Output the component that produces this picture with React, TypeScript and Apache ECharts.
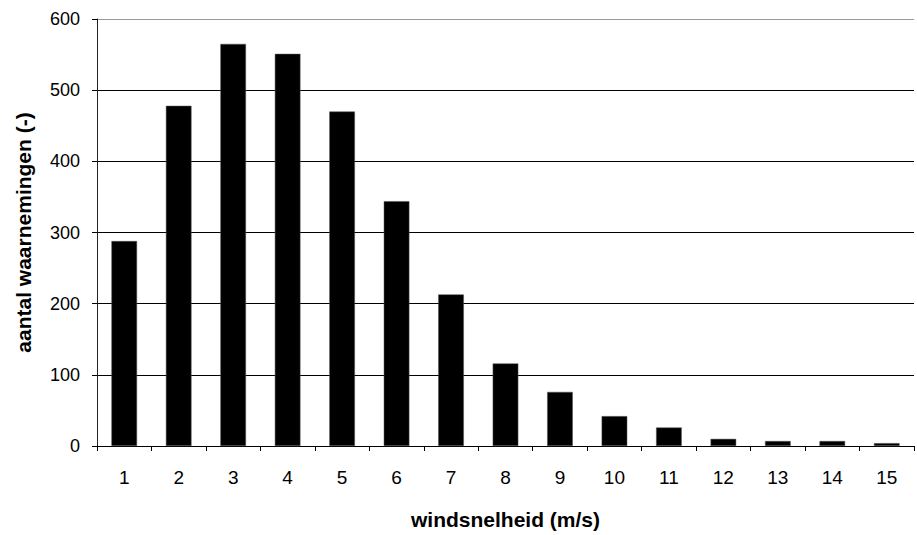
import React, { useEffect, useRef } from "react";
import * as echarts from "echarts";

const categories = ["1", "2", "3", "4", "5", "6", "7", "8", "9", "10", "11", "12", "13", "14", "15"];
const counts = [288, 478, 565, 551, 470, 344, 213, 116, 76, 42, 26, 10, 7, 7, 4];
const yTitle = "aantal waarnemingen (-)";
const xTitle = "windsnelheid (m/s)";

export default function App() {
  const ref = useRef<HTMLDivElement>(null);
  useEffect(() => {
    if (!ref.current) return;
    const chart = echarts.init(ref.current, undefined, { renderer: "svg" });
    const font = "'Liberation Sans', Arial, sans-serif";
    chart.setOption({
      animation: false,
      backgroundColor: "#fff",
      grid: { left: 97, right: 3, top: 19, bottom: 86, containLabel: false },
      xAxis: {
        type: "category",
        data: categories,
        boundaryGap: true,
        name: xTitle,
        nameLocation: "middle",
        nameGap: 63,
        nameTextStyle: { fontFamily: font, fontSize: 21, fontWeight: "bold", color: "#000" },
        axisLine: { lineStyle: { color: "#000", width: 1 } },
        axisTick: { show: true, alignWithLabel: false, length: 5, lineStyle: { color: "#000" } },
        axisLabel: { fontFamily: font, fontSize: 19, color: "#000", margin: 22 },
        splitLine: { show: false },
      },
      yAxis: {
        type: "value",
        min: 0,
        max: 600,
        interval: 100,
        name: yTitle,
        nameLocation: "middle",
        nameRotate: 90,
        nameGap: 63,
        nameTextStyle: { fontFamily: font, fontSize: 21, fontWeight: "bold", color: "#000" },
        axisLine: { show: true, lineStyle: { color: "#222", width: 1 } },
        axisTick: { show: true, length: 5, lineStyle: { color: "#000" } },
        axisLabel: { fontFamily: font, fontSize: 18, color: "#000", margin: 17 },
        splitLine: {
          show: true,
          lineStyle: { color: ["#000", "#000", "#000", "#000", "#000", "#000", "#999"], width: 1 },
        },
      },
      series: [
        {
          type: "bar",
          data: counts,
          barWidth: "47%",
          itemStyle: { color: "#000", borderColor: "#555", borderWidth: 0.5 },
        },
      ],
    });
    return () => chart.dispose();
  }, []);
  return (
    <div
      ref={ref}
      style={{ position: "absolute", left: 0, top: 0, width: 917, height: 535 }}
    />
  );
}
